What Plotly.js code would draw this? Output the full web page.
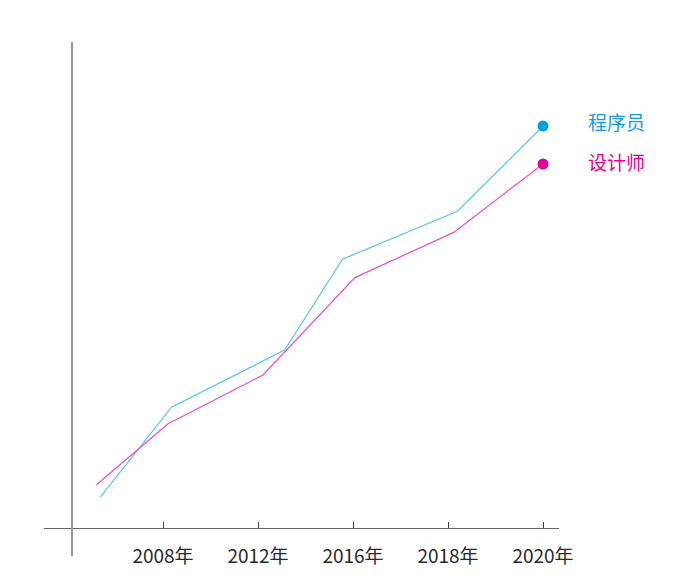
<!DOCTYPE html>
<html>
<head>
<meta charset="utf-8">
<script src="https://cdn.plot.ly/plotly-3.0.1.min.js"></script>
<style>html,body{margin:0;padding:0;background:#fff;}#chart{width:692px;height:586px;}</style>
</head>
<body>
<div id="chart"></div>
<script>
// Tick categories (evenly spaced positions 0..4)
const tickPositions = [0, 1, 2, 3, 4];
const tickLabels = ['2008年', '2012年', '2016年', '2018年', '2020年'];

// Series (x in tick-index units, y in arbitrary value units)
const programmerX = [-0.66, 0.09, 1.28, 1.89, 3.10, 4.0];
const programmerY = [7.7, 30.2, 44.5, 67.2, 79.2, 100.5];
const designerX = [-0.70, 0.05, 1.05, 2.02, 3.06, 4.0];
const designerY = [10.8, 26.0, 38.2, 62.6, 73.9, 91.0];

const seriesNames = ['程序员', '设计师'];

const lineBlue = '#55c4f2', dotBlue = '#009fe3';
const linePink = '#ef4cc4', dotPink = '#e4009a';

const last = a => a[a.length - 1];

const traces = [
  {x: programmerX, y: programmerY, mode: 'lines', line: {color: lineBlue, width: 1.2}, hoverinfo: 'skip', name: seriesNames[0]},
  {x: designerX, y: designerY, mode: 'lines', line: {color: linePink, width: 1.2}, hoverinfo: 'skip', name: seriesNames[1]},
  {x: [last(programmerX)], y: [last(programmerY)], mode: 'markers', marker: {color: dotBlue, size: 11}, hoverinfo: 'skip'},
  {x: [last(designerX)], y: [last(designerY)], mode: 'markers', marker: {color: dotPink, size: 11}, hoverinfo: 'skip'}
];

const labelFont = "'Noto Sans CJK SC', 'Noto Sans', sans-serif";

const layout = {
  width: 692, height: 586,
  margin: {l: 44, r: 133, t: 42, b: 30},
  paper_bgcolor: '#ffffff', plot_bgcolor: '#ffffff',
  showlegend: false,
  xaxis: {
    range: [-1.2526, 4.1684],
    tickvals: tickPositions, ticktext: tickLabels,
    showgrid: false, zeroline: false,
    showline: true, linecolor: '#666666', linewidth: 1,
    anchor: 'free', position: 28 / 514,
    ticks: 'inside', ticklen: 6, tickcolor: '#444444', tickwidth: 1,
    ticklabelstandoff: 11,
    tickfont: {family: labelFont, size: 19, color: '#2a2a2a'},
    automargin: false, fixedrange: true
  },
  yaxis: {
    range: [-7, 121.5],
    showticklabels: false, ticks: '',
    showgrid: false, zeroline: false,
    showline: true, linecolor: '#999999', linewidth: 2,
    anchor: 'free', position: 28 / 515,
    automargin: false, fixedrange: true
  },
  annotations: [
    {x: last(programmerX), y: last(programmerY), xref: 'x', yref: 'y', text: seriesNames[0], showarrow: false,
     xanchor: 'left', xshift: 43, yshift: 5, font: {family: labelFont, size: 19, color: '#1a9ae0'}},
    {x: last(designerX), y: last(designerY), xref: 'x', yref: 'y', text: seriesNames[1], showarrow: false,
     xanchor: 'left', xshift: 43, yshift: 3, font: {family: labelFont, size: 19, color: '#e4008c'}}
  ]
};

Plotly.newPlot('chart', traces, layout, {displayModeBar: false, staticPlot: true});
</script>
</body>
</html>
